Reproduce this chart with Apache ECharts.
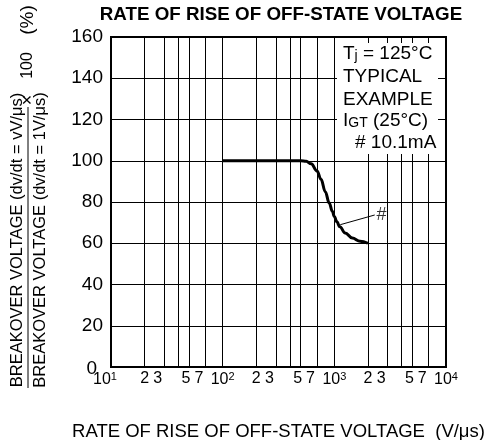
<!DOCTYPE html>
<html><head><meta charset="utf-8">
<script src="https://cdn.jsdelivr.net/npm/echarts@6/dist/echarts.min.js"></script>
<style>html,body{margin:0;padding:0;background:#fff}#c{width:492px;height:440px}</style>
</head><body><div id="c"></div>
<script>
// ---- data ----
const curveX = [100, 300, 500, 560, 620, 700, 760, 830, 900, 960, 1000, 1050, 1120, 1250, 1450, 1700, 2000];
const curveY = [100, 100, 100, 99.7, 98.5, 95, 91, 85, 79.5, 75.5, 73, 70.5, 68, 65, 62.5, 61, 60];
const gridXValues = [10, 20, 30, 40, 50, 70, 100, 200, 300, 400, 500, 700, 1000, 2000, 3000, 4000, 5000, 7000, 10000];
const labelXValues = [10, 20, 30, 50, 70, 100, 200, 300, 500, 700, 1000, 2000, 3000, 5000, 7000, 10000];
const labelXTexts = ['10|1', '2', '3', '5', '7', '10|2', '2', '3', '5', '7', '10|3', '2', '3', '5', '7', '10|4'];
const yTicks = [0, 20, 40, 60, 80, 100, 120, 140, 160];
const arrowFrom = [2300, 73.7];
const arrowTo = [1130, 69];
const hashMark = [2650, 73.5];

const FONT = 'Liberation Sans, Arial, sans-serif';
const chart = echarts.init(document.getElementById('c'), null, {renderer: 'canvas'});
const labelMap = {};
labelXValues.forEach((v, i) => labelMap[v] = labelXTexts[i]);

// label style keys (visual offsets only)
const styleFor = {'2': 'd0', '3': 'd6', '5': 'd3', '7': 'd6'};
function fmtX(v) {
  const key = Math.round(v);
  const t = labelMap[key];
  if (!t) return '';
  if (t.indexOf('|') >= 0) {
    const [b, e] = t.split('|');
    const st = key === 10 ? 's10' : 's';
    return '{p|' + b + '}{' + st + '|' + e + '}';
  }
  return '{' + styleFor[t] + '|' + t + '}';
}
const base = {fontFamily: FONT, fontSize: 16, color: '#000'};
const sup = {fontFamily: FONT, fontSize: 11, color: '#000', verticalAlign: 'top', padding: [0, 0, 6, 0]};

chart.setOption({
  animation: false,
  backgroundColor: '#fff',
  title: {
    text: 'RATE OF RISE OF OFF-STATE VOLTAGE',
    left: 276, top: 0, textAlign: 'center',
    textStyle: {fontFamily: FONT, fontWeight: 'bold', fontSize: 18.8, color: '#000'}
  },
  grid: {left: 111, right: 46, top: 37, bottom: 73, outerBoundsMode: 'none', containLabel: false, show: true, borderColor: '#000', borderWidth: 2, backgroundColor: 'transparent'},
  xAxis: {
    type: 'log', logBase: 10, min: 10, max: 10000,
    name: 'RATE OF RISE OF OFF-STATE VOLTAGE  (V/μs)',
    nameLocation: 'middle', nameGap: 55,
    nameTextStyle: {fontFamily: FONT, fontSize: 18.5, color: '#000'},
    axisLine: {show: false},
    axisTick: {show: false, customValues: gridXValues},
    splitLine: {show: true, lineStyle: {color: '#000', width: 1}},
    axisLabel: {
      customValues: labelXValues,
      fontFamily: FONT, fontSize: 16, color: '#000', margin: 4,
      formatter: fmtX,
      rich: {
        d0: Object.assign({}, base),
        d3: Object.assign({}, base, {padding: [0, 6, 0, 0]}),
        d6: Object.assign({}, base, {padding: [0, 13, 0, 0]}),
        p: Object.assign({}, base),
        s: Object.assign({}, sup),
        s10: Object.assign({}, sup, {padding: [0, 12, 6, 0]})
      }
    }
  },
  yAxis: {
    type: 'value', min: 0, max: 160, interval: 20,
    axisLine: {show: false}, axisTick: {show: false},
    splitLine: {show: true, lineStyle: {color: '#000', width: 1}},
    axisLabel: {
      fontFamily: FONT, fontSize: 19, color: '#000', margin: 8,
      formatter: v => v === 0 ? '{z|0}' : String(v),
      rich: {z: {fontFamily: FONT, fontSize: 19, color: '#000', padding: [4, 6, 0, 0]}}
    }
  },
  series: [
    {
      type: 'line', data: curveX.map((x, i) => [x, curveY[i]]),
      smooth: 0.4, smoothMonotone: 'x', symbol: 'none',
      lineStyle: {color: '#000', width: 3}, z: 5,
      markLine: {
        silent: true, symbol: ['none', 'arrow'], symbolSize: [0, 8],
        lineStyle: {color: '#000', width: 1, type: 'solid'}, label: {show: false},
        data: [[{coord: arrowFrom}, {coord: arrowTo}]]
      }
    },
    {
      type: 'scatter', data: [hashMark], symbolSize: 0,
      label: {show: true, formatter: '#', position: 'inside', fontFamily: FONT, fontSize: 18, color: '#000'}
    }
  ],
  graphic: [
    {type: 'rect', left: 337, top: 43, shape: {width: 101, height: 111}, style: {fill: '#fff'}, z: 10},
    {type: 'text', left: 343, top: 44, z: 11, style: {rich: {a: {fontFamily: FONT, fontSize: 19, fill: '#000'}, s: {fontFamily: FONT, fontSize: 14, fill: '#000', verticalAlign: 'bottom', padding: [0, 0, 0, 0]}}, text: '{a|T}{s|j}{a| = 125°C}'}},
    {type: 'text', left: 343, top: 67, z: 11, style: {text: 'TYPICAL', font: '19px ' + FONT, fill: '#000'}},
    {type: 'text', left: 343, top: 90, z: 11, style: {text: 'EXAMPLE', font: '19px ' + FONT, fill: '#000'}},
    {type: 'text', left: 343, top: 111, z: 11, style: {rich: {a: {fontFamily: FONT, fontSize: 19, fill: '#000'}, s: {fontFamily: FONT, fontSize: 14, fill: '#000', verticalAlign: 'bottom'}}, text: '{a|I}{s|GT}{a| (25°C)}'}},
    {type: 'text', left: 355, top: 133, z: 11, style: {text: '# 10.1mA', font: '19px ' + FONT, fill: '#000'}},
    // y axis name (fraction)
    {type: 'text', x: 17, y: 240, rotation: Math.PI / 2, style: {text: 'BREAKOVER VOLTAGE (dv/dt = vV/μs)', font: '16.5px ' + FONT, fill: '#000', align: 'center', verticalAlign: 'middle'}},
    {type: 'line', shape: {x1: 28, y1: 107, x2: 28, y2: 388}, style: {stroke: '#000', lineWidth: 1}},
    {type: 'text', x: 40, y: 240, rotation: Math.PI / 2, style: {text: 'BREAKOVER VOLTAGE (dv/dt = 1V/μs)', font: '16.5px ' + FONT, fill: '#000', align: 'center', verticalAlign: 'middle'}},
    {type: 'text', x: 28, y: 100, rotation: Math.PI / 2, style: {text: '×', font: '18px ' + FONT, fill: '#000', align: 'center', verticalAlign: 'middle'}},
    {type: 'text', x: 28, y: 65.5, rotation: Math.PI / 2, style: {text: '100', font: '16px ' + FONT, fill: '#000', align: 'center', verticalAlign: 'middle'}},
    {type: 'text', x: 28, y: 20, rotation: Math.PI / 2, style: {text: '(%)', font: '19px ' + FONT, fill: '#000', align: 'center', verticalAlign: 'middle'}}
  ]
});
</script></body></html>
